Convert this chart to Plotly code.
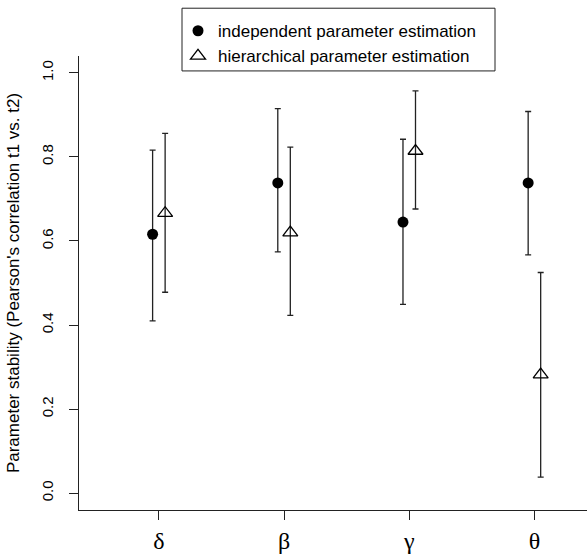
import plotly.graph_objects as go

params = ["δ", "β", "γ", "θ"]
positions = [1, 2, 3, 4]
offset = 0.05

indep_mean = [0.616, 0.738, 0.645, 0.738]
indep_low = [0.410, 0.574, 0.449, 0.567]
indep_high = [0.816, 0.915, 0.842, 0.908]

hier_mean = [0.666, 0.620, 0.814, 0.282]
hier_low = [0.478, 0.423, 0.676, 0.038]
hier_high = [0.856, 0.823, 0.957, 0.525]

fig = go.Figure()

fig.add_trace(go.Scatter(
    x=[p - offset for p in positions], y=indep_mean, mode="markers",
    name="independent parameter estimation",
    marker=dict(symbol="circle", size=11, color="black"),
    error_y=dict(type="data", symmetric=False,
                 array=[h - m for h, m in zip(indep_high, indep_mean)],
                 arrayminus=[m - l for m, l in zip(indep_mean, indep_low)],
                 color="#222", thickness=1.3, width=3),
))
fig.add_trace(go.Scatter(
    x=[p + offset for p in positions], y=hier_mean, mode="markers",
    name="hierarchical parameter estimation",
    marker=dict(symbol="triangle-up-open", size=13, color="black",
                line=dict(width=1.3, color="black")),
    error_y=dict(type="data", symmetric=False,
                 array=[h - m for h, m in zip(hier_high, hier_mean)],
                 arrayminus=[m - l for m, l in zip(hier_mean, hier_low)],
                 color="#222", thickness=1.3, width=3),
))

fig.add_shape(type="rect", xref="paper", yref="paper",
              x0=(182 - 79) / 508, x1=(495 - 79) / 508,
              y0=(512 - 71) / 456, y1=(512 - 8) / 456,
              line=dict(color="#222", width=1), fillcolor="white", layer="below")

fig.update_layout(
    width=587, height=554,
    margin=dict(l=79, r=0, t=56, b=42),
    plot_bgcolor="white", paper_bgcolor="white",
    font=dict(family="Liberation Sans, Arial", color="black"),
    showlegend=True,
    legend=dict(x=(178 - 79) / 508, y=(512 - 13) / 456, xanchor="left", yanchor="top",
                bgcolor="rgba(0,0,0,0)", borderwidth=0,
                font=dict(size=17, family="Liberation Sans, Arial"),
                tracegroupgap=0),
    xaxis=dict(range=[0.362, 4.42], tickmode="array", tickvals=positions, ticktext=params,
               showline=True, linecolor="#222", linewidth=1.2, ticks="outside", ticklen=9,
               tickcolor="#222", showgrid=False, zeroline=False,
               tickfont=dict(family="Liberation Serif, Times New Roman", size=24)),
    yaxis=dict(range=[-0.04, 1.04], tickmode="array", tickvals=[0, 0.2, 0.4, 0.6, 0.8, 1.0],
               ticktext=["0.0", "0.2", "0.4", "0.6", "0.8", "1.0"], tickangle=-90,
               showline=True, linecolor="#222", linewidth=1.2, ticks="outside", ticklen=9,
               tickcolor="#222", showgrid=False, zeroline=False,
               ticklabelstandoff=10,
               tickfont=dict(size=15),
               title=dict(text="Parameter stability (Pearson's correlation t1 vs. t2)",
                          font=dict(size=17), standoff=14)),
)

fig.write_html("out.html")
